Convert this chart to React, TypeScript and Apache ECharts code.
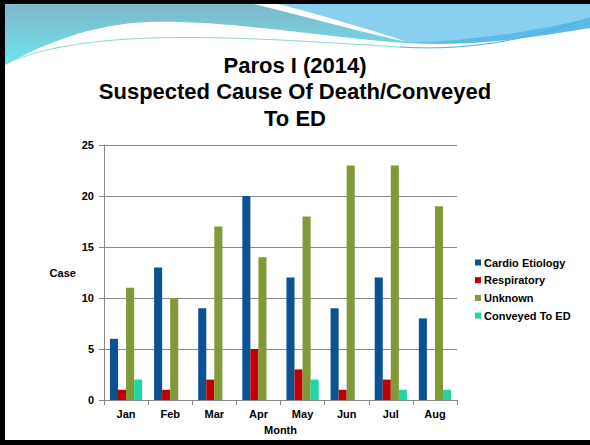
import React, { useEffect, useRef } from "react";
import * as echarts from "echarts";

const months = ["Jan", "Feb", "Mar", "Apr", "May", "Jun", "Jul", "Aug"];
const cardio = [6, 13, 9, 20, 12, 9, 12, 8];
const respiratory = [1, 1, 2, 5, 3, 1, 2, 0];
const unknown = [11, 10, 17, 14, 18, 23, 23, 19];
const conveyed = [2, 0, 0, 0, 2, 0, 1, 1];
const seriesNames = ["Cardio Etiology", "Respiratory", "Unknown", "Conveyed To ED"];
const seriesColors = ["#0b5294", "#c00000", "#7f9a36", "#1fd5a2"];
const titleText = "Paros I (2014)\nSuspected Cause Of Death/Conveyed\nTo ED";

const shapes: Record<string, string> = {
  hdrBase: "M0 0 L590 0 L590 50 L0 75 Z",
  hdrLight: "M262 0 L590 0 L590 20 C540 32 470 41 408 42 C370 30 320 14 262 0 Z",
  hdrStripe: "M238 0 L262 0 C320 14 370 30 408 42 C360 32 300 15 238 0 Z",
  hdrBand: "M405 43 C470 42 540 30 590 18 L590 32 C530 40 470 45 405 43 Z",
  hdrWhite: "M0 68 C40 45 90 24 150 22 C230 20 330 38 405 43 C470 47 530 38 590 28 L590 90 L0 90 Z",
};

let registered = false;
function registerShapes() {
  if (registered) return;
  registered = true;
  Object.keys(shapes).forEach((k) => {
    echarts.graphic.registerShape(k, echarts.graphic.extendPath(shapes[k], {}) as any);
  });
}

export default function App() {
  const ref = useRef<HTMLDivElement>(null);
  useEffect(() => {
    registerShapes();
    const chart = echarts.init(ref.current!, null, { renderer: "svg" });
    const bold = { fontFamily: "Liberation Sans, Arial, sans-serif", fontWeight: "bold" as const, color: "#000" };
    const data = [cardio, respiratory, unknown, conveyed];
    chart.setOption({
      animation: false,
      backgroundColor: "#ffffff",
      textStyle: { fontFamily: "Liberation Sans, Arial, sans-serif" },
      graphic: [
        {
          type: "hdrBase",
          x: 0,
          y: 0,
          z: -10,
          style: {
            fill: new echarts.graphic.LinearGradient(0, 0, 0, 1, [
              { offset: 0, color: "#80b4c6" },
              { offset: 1, color: "#6cecf5" },
            ]),
          },
        },
        { type: "hdrLight", x: 0, y: 0, z: -9, style: { fill: "#89cff0" } },
        { type: "hdrStripe", x: 0, y: 0, z: -9, style: { fill: "#ffffff" } },
        { type: "hdrBand", x: 0, y: 0, z: -9, style: { fill: "#5cbbe6" } },
        { type: "hdrWhite", x: 0, y: 0, z: -8, style: { fill: "#ffffff" } },
        {
          type: "bezierCurve",
          z: -7,
          shape: { x1: 5, y1: 64, x2: 400, y2: 47, cpx1: 90, cpy1: 25, cpx2: 250, cpy2: 38 },
          style: { stroke: "#8fd8cf", lineWidth: 1, fill: "none" },
        },
        {
          type: "bezierCurve",
          z: -7,
          shape: { x1: 400, y1: 47, x2: 590, y2: 18, cpx1: 480, cpy1: 52, cpx2: 540, cpy2: 35 },
          style: { stroke: "#4ab0e0", lineWidth: 1, fill: "none" },
        },
        { type: "rect", z: 100, shape: { x: 0, y: 0, width: 590, height: 4 }, style: { fill: "#000" } },
        { type: "rect", z: 100, shape: { x: 0, y: 0, width: 5, height: 445 }, style: { fill: "#000" } },
        { type: "rect", z: 100, shape: { x: 0, y: 440, width: 590, height: 5 }, style: { fill: "#000" } },
      ],
      title: {
        text: titleText,
        left: "center",
        top: 52,
        padding: 0,
        textStyle: { ...bold, fontSize: 22, lineHeight: 26.5 },
      },
      legend: {
        orient: "vertical",
        left: 470,
        top: 252,
        itemWidth: 6,
        itemHeight: 6,
        itemGap: 6.7,
        icon: "rect",
        data: seriesNames,
        textStyle: { ...bold, fontSize: 11, padding: [0, 0, 0, -2] },
      },
      grid: { left: 104, right: 133, top: 145, bottom: 45, containLabel: false },
      xAxis: {
        type: "category",
        data: months,
        name: "Month",
        nameLocation: "middle",
        nameGap: 24,
        nameTextStyle: { ...bold, fontSize: 11 },
        axisLine: { lineStyle: { color: "#888888", width: 1 } },
        axisTick: { show: true, length: 5, alignWithLabel: false, lineStyle: { color: "#888888" } },
        axisLabel: { ...bold, fontSize: 11, margin: 8 },
      },
      yAxis: {
        type: "value",
        min: 0,
        max: 25,
        interval: 5,
        name: "Case",
        nameLocation: "middle",
        nameRotate: 0,
        nameGap: 26,
        nameTextStyle: { ...bold, fontSize: 11 },
        axisLine: { show: true, lineStyle: { color: "#888888", width: 1 } },
        axisTick: { show: true, length: 5, lineStyle: { color: "#888888" } },
        axisLabel: { ...bold, fontSize: 11, margin: 10 },
        splitLine: { lineStyle: { color: "#888888", width: 1 } },
      },
      series: seriesNames.map((name, i) => ({
        name,
        type: "bar",
        data: data[i],
        barGap: "0%",
        barCategoryGap: "27%",
        itemStyle: { color: seriesColors[i] },
      })),
    });
    return () => chart.dispose();
  }, []);
  return (
    <div
      ref={ref}
      style={{ position: "fixed", left: 0, top: 0, width: 590, height: 445, background: "#fff" }}
    />
  );
}
